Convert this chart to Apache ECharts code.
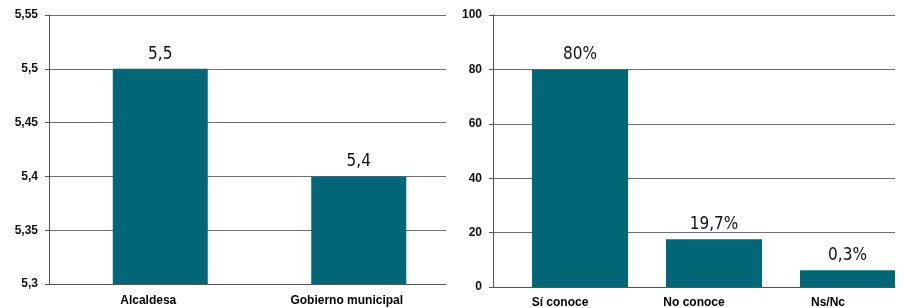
<!DOCTYPE html>
<html>
<head>
<meta charset="utf-8">
<script src="https://cdn.jsdelivr.net/npm/echarts@6/dist/echarts.min.js"></script>
</head>
<body style="margin:0;background:#fff">
<div id="ch" style="width:905px;height:308px;"></div>

<script>
// left panel: rating
var leftCats = ['Alcaldesa', 'Gobierno municipal']
var leftVals = [5.5, 5.4]
var leftLabels = ['5,5', '5,4']

// right panel: conoce
var rightCats = ['Sí conoce', 'No conoce', 'Ns/Nc']
var rightVals = [80, 17.6, 6.2]   // bar heights as drawn
var rightLabels = ['80%', '19,7%', '0,3%']

var barColor = '#016676'
var txt = 'Liberation Sans, Arial, sans-serif'
var valFont = 'DejaVu Sans Condensed, DejaVu Sans, sans-serif'

function axisY(idx, min, max, step, fmt, weight) {
    return {
        type: 'value', gridIndex: idx, min: min, max: max, interval: step,
        axisLine: { show: true, lineStyle: { color: '#555', width: 1 } },
        axisTick: { show: true, length: 4, lineStyle: { color: '#555' } },
        splitLine: { lineStyle: { color: '#6f6f6f', width: 1 } },
        axisLabel: {
            margin: 11, color: '#111', fontFamily: txt, fontSize: 12,
            fontWeight: weight, formatter: fmt
        }
    }
}

function axisX(idx, cats, margin) {
    return {
        type: 'category', gridIndex: idx, data: cats,
        axisLine: { lineStyle: { color: '#555', width: 1 } },
        axisTick: { length: 4, lineStyle: { color: '#555' } },
        axisLabel: {
            interval: 0, margin: margin, color: '#000', fontFamily: txt,
            fontSize: 12, fontWeight: 'bold'
        }
    }
}

function labelsFrom(arr) {
    return function(p) { return arr[p.dataIndex] }
}

var chartInst = echarts.init(document.getElementById('ch'))
chartInst.setOption({
    animation: false,
    grid: [
        { left: 49, top: 15, right: 459, bottom: 24, outerBoundsMode: 'none', containLabel: false },
        { left: 493, top: 15, right: 10, bottom: 21, outerBoundsMode: 'none', containLabel: false }
    ],
    xAxis: [axisX(0, leftCats, 11), axisX(1, rightCats, 10)],
    yAxis: [
        axisY(0, 5.3, 5.55, 0.05, function(v) {
            return String(+v.toFixed(2)).replace('.', ',')
        }, 'bold'),
        axisY(1, 0, 100, 20, null, 'bold')
    ],
    series: [
        // empty spacer series so the bars sit a bit right of centre, like the original
        { type: 'bar', xAxisIndex: 0, yAxisIndex: 0, data: [], barWidth: 95 },
        {
            type: 'bar', xAxisIndex: 0, yAxisIndex: 0, data: leftVals,
            barWidth: 95, barGap: '-74.7%',
            itemStyle: { color: barColor },
            label: {
                show: true, position: 'top', distance: 6, formatter: labelsFrom(leftLabels),
                color: '#111', fontFamily: valFont, fontSize: 17
            }
        },
        { type: 'bar', xAxisIndex: 1, yAxisIndex: 1, data: [], barWidth: 96 },
        {
            type: 'bar', xAxisIndex: 1, yAxisIndex: 1, data: rightVals,
            barWidth: 96, barGap: '-58.3%',
            itemStyle: { color: barColor },
            label: {
                show: true, position: 'top', distance: 6, formatter: labelsFrom(rightLabels),
                color: '#111', fontFamily: valFont, fontSize: 17
            }
        }
    ]
})
</script>
</body>
</html>
